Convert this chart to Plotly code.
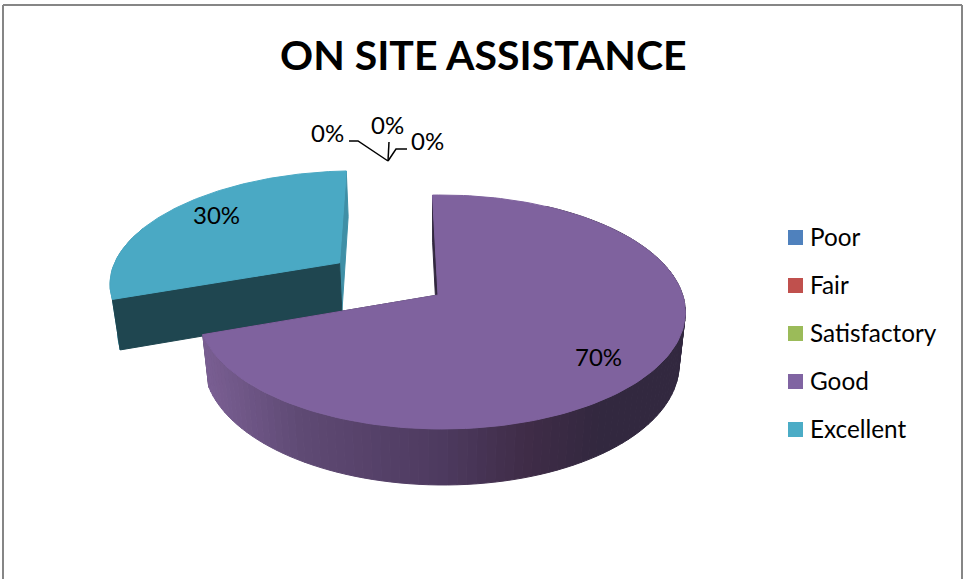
import numpy as np
import plotly.graph_objects as go

# ---- data ----
categories = ["Poor", "Fair", "Satisfactory", "Good", "Excellent"]
values = [0, 0, 0, 70, 30]
legend_colors = ["#4f81bd", "#c0504d", "#9bbb59", "#8064a2", "#4bacc6"]
title = "ON SITE ASSISTANCE"

# ---- projection / style ----
W, H = 963, 579
APEX = (438, 295)
A, B, C = 241.0, 114.5, 52.6
K, M, N = 0.1453, -0.015, 0.025
START_DEG = -1.5
EXPLODE = {"Excellent": 0.52}
FONT = "Lato"
TOP = {"Good": "#7f629e", "Excellent": "#4aa9c4"}
RADIAL = {"Good": "#32283f", "Excellent": "#1f4650"}
RIM = {"Excellent": "#3f8fa6"}
GRAD_X = [204, 300, 440, 530, 600, 684]
GRAD_C = [(122, 95, 147), (95, 74, 116), (78, 59, 96), (63, 44, 71), (51, 40, 63), (50, 40, 63)]


def project(X, Y, z=0.0):
    den = 1 + K * Y + M * X + N * z
    return APEX[0] + A * X / den, APEX[1] + (-B * Y + C * z) / den


def poly(fig, pts, color):
    xs, ys = zip(*pts)
    fig.add_trace(go.Scatter(x=list(xs) + [xs[0]], y=list(ys) + [ys[0]], mode="lines", fill="toself",
                             fillcolor=color, line=dict(color=color, width=1), hoverinfo="skip",
                             showlegend=False))


def grad(x):
    r = [np.interp(x, GRAD_X, [c[i] for c in GRAD_C]) for i in range(3)]
    return "rgb(%d,%d,%d)" % tuple(r)


fig = go.Figure()
total = sum(values)
angle = START_DEG
slices = {}
for name, v in zip(categories, values):
    slices[name] = (angle, angle + 360 * v / total)
    angle += 360 * v / total


def ring(name, deg, z=0.0):
    e = EXPLODE.get(name, 0)
    a0, a1 = slices[name]
    mid = np.radians((a0 + a1) / 2)
    ox, oy = e * np.sin(mid), e * np.cos(mid)
    if deg is None:
        return project(ox, oy, z)
    t = np.radians(deg)
    return project(ox + np.sin(t), oy + np.cos(t), z)


def draw(name):
    a0, a1 = slices[name]
    if name == "Good":
        poly(fig, [ring(name, a1), ring(name, None), ring(name, None, 1), ring(name, a1, 1)], RADIAL[name])
        poly(fig, [ring(name, a0), ring(name, None), ring(name, None, 1), ring(name, a0, 1)], RADIAL[name])
        edge = np.arange(30, a1, 2.0).tolist() + [a1]
        for d0, d1 in zip(edge[:-1], edge[1:]):
            xm = ring(name, (d0 + d1) / 2)[0]
            poly(fig, [ring(name, d0), ring(name, d1), ring(name, d1, 1), ring(name, d0, 1)], grad(xm))
    else:
        poly(fig, [ring(name, a1), ring(name, None), ring(name, None, 1), ring(name, a1, 1)], RIM[name])
        ds = np.linspace(a0, a0 + 40, 15)
        pts = [ring(name, d) for d in ds] + [ring(name, d, 1) for d in ds[::-1]]
        poly(fig, pts, RIM[name])
        poly(fig, [ring(name, a0), ring(name, None), ring(name, None, 1), ring(name, a0, 1)], RADIAL[name])
    ds = np.linspace(a0, a1, 150)
    poly(fig, [ring(name, None)] + [ring(name, d) for d in ds], TOP[name])


draw("Excellent")
draw("Good")

# percentage labels
label_pos = {"Poor": (327, 132.5), "Fair": (387, 124.5), "Satisfactory": (427, 140.5), "Good": (598, 356.5), "Excellent": (216, 214.5)}
for name, v in zip(categories, values):
    fig.add_annotation(x=label_pos[name][0], y=label_pos[name][1], text=f"{v / total:.0%}", showarrow=False,
                       font=dict(family=FONT, size=24, color="#000000"))

# leader lines
leaders = [[(349, 141), (358, 141), (388, 161)], [(389, 142), (388, 161)], [(407, 149), (396, 149), (388, 161)]]
for seg in leaders:
    fig.add_trace(go.Scatter(x=[p[0] for p in seg], y=[p[1] for p in seg], mode="lines",
                             line=dict(color="#000000", width=1.5), hoverinfo="skip", showlegend=False))

# legend
for i, (name, col) in enumerate(zip(categories, legend_colors)):
    y = 237.5 + i * 48
    fig.add_trace(go.Scatter(x=[795.5], y=[y], mode="markers", marker=dict(symbol="square", size=15, color=col, line=dict(width=0)),
                             name=name, hoverinfo="name", showlegend=False))
    fig.add_annotation(x=808, y=y - 1.5, text=name, xanchor="left", showarrow=False,
                       font=dict(family=FONT, size=24.3, color="#000000"))

fig.add_annotation(x=483, y=54, text=f"<b>{title}</b>", showarrow=False, font=dict(family=FONT, size=41, color="#000000"))

# frame
for x0, y0, x1, y1, w in [(3, 5, 3, 579, 2), (3, 5, 962, 5, 2), (962, 5, 962, 579, 2)]:
    fig.add_shape(type="line", x0=x0, y0=y0, x1=x1, y1=y1, line=dict(color="#868686", width=w))

fig.update_layout(width=W, height=H, margin=dict(l=0, r=0, t=0, b=0), plot_bgcolor="white", paper_bgcolor="white",
                  xaxis=dict(range=[0, W], visible=False, fixedrange=True),
                  yaxis=dict(range=[H, 0], visible=False, fixedrange=True),
                  showlegend=False)
fig.write_html("out.html", config={"displayModeBar": False},
               post_script="document.body.style.margin='0';document.body.style.overflow='hidden';")
